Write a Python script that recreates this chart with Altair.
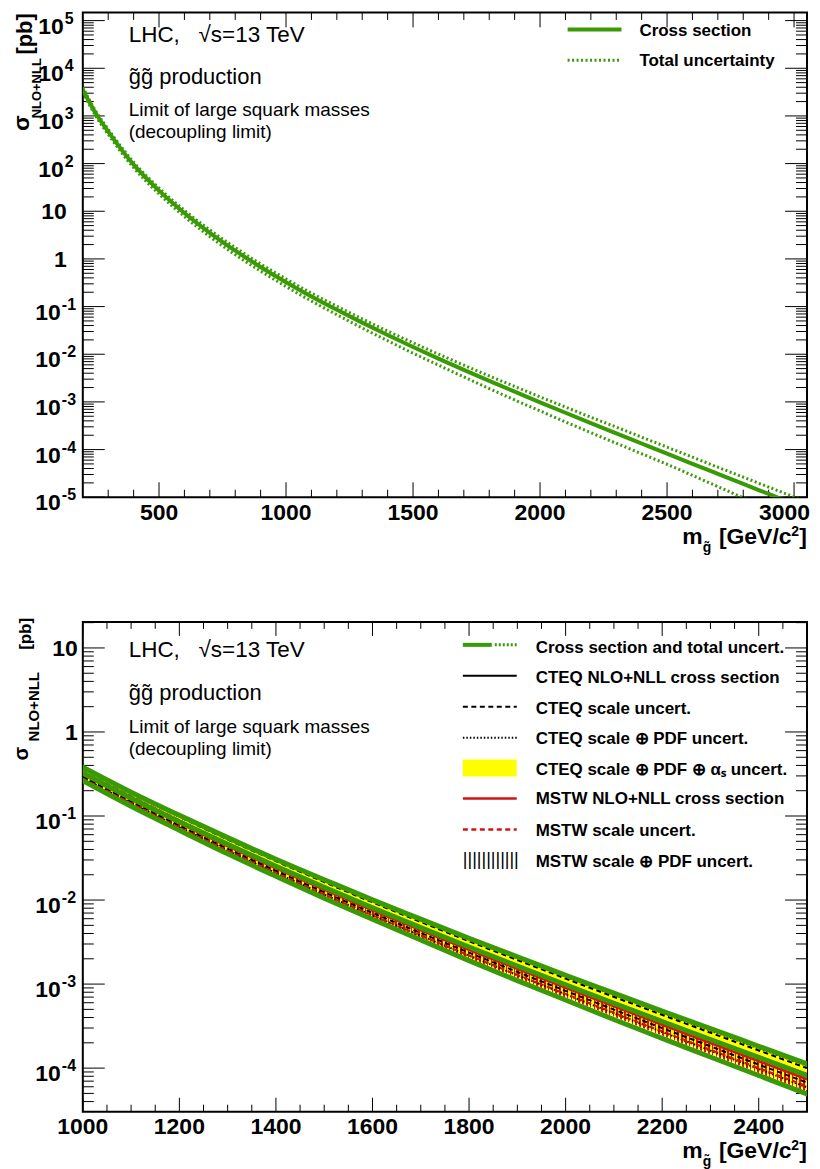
import altair as alt
import pandas as pd

FONT = "Liberation Sans"
GREEN = "#3a9a06"
RED = "#d41414"
YELLOW = "#ffff00"
BLACK = "#000000"

# ---------------- data ----------------
# top panel: gluino-pair cross section (pb) and total-uncertainty envelope
top_mass = [200, 250, 300, 400, 500, 600, 700, 800, 900, 1000, 1100, 1200, 1300, 1400, 1500,
            1600, 1700, 1800, 1900, 2000, 2100, 2200, 2300, 2400, 2500, 2600, 2700, 2800,
            2900, 3000, 3100]
top_xsec = [3550, 1150, 470, 95, 27.1, 9.2, 3.53, 1.49, 0.677, 0.325, 0.163, 0.0856, 0.0461,
            0.0253, 0.0142, 0.0081, 0.0047, 0.00276, 0.00164, 0.000981, 0.000592, 0.000359,
            0.000219, 0.000134, 0.0000820, 0.0000503, 0.0000309, 0.0000190, 0.0000117,
            0.0000072, 0.0000044]
top_up = [3976, 1288, 526, 107.4, 30.6, 10.49, 4.06, 1.728, 0.785, 0.380, 0.1923, 0.1019,
          0.0553, 0.0306, 0.01747, 0.01004, 0.00592, 0.003505, 0.002116, 0.001275, 0.000781,
          0.000477, 0.000296, 0.0001822, 0.0001123, 0.0000694, 0.0000426, 0.0000264,
          0.0000163, 0.0000101, 0.0000062]
top_down = [3124, 1012, 409, 81.7, 23.0, 7.73, 2.93, 1.222, 0.555, 0.263, 0.1304, 0.0676,
            0.0355, 0.0192, 0.01051, 0.00591, 0.00334, 0.001904, 0.001099, 0.000647,
            0.000379, 0.000226, 0.0001358, 0.0000817, 0.0000492, 0.0000287, 0.0000167,
            0.0000097, 0.0000056, 0.0000033, 0.0000020]

# bottom panel: CTEQ / MSTW components (pb)
bot_mass = [1000, 1250, 1500, 1750, 2000, 2250, 2500]
cteq_central = [0.3283, 0.06362, 0.01444, 0.003672, 0.001004, 0.0002876, 0.00008446]
cteq_scale_up = [0.364, 0.0714, 0.01637, 0.004212, 0.001164, 0.0003368, 0.0001000]
cteq_scale_down = [0.2925, 0.0557, 0.0124, 0.003096, 0.000831, 0.0002332, 0.00006724]
cteq_pdf_up = [0.3738, 0.07379, 0.01704, 0.00441, 0.001226, 0.000357, 0.0001066]
cteq_pdf_down = [0.2828, 0.05307, 0.01164, 0.002862, 0.0007554, 0.0002086, 0.00005904]
cteq_tot_up = [0.3803, 0.07505, 0.01747, 0.004554, 0.001275, 0.0003752, 0.0001123]
cteq_tot_down = [0.273, 0.05087, 0.01108, 0.0027, 0.0007063, 0.0001932, 0.00005412]
mstw_central = [0.312, 0.05966, 0.01335, 0.003348, 0.0009025, 0.0002548, 0.0000738]
mstw_scale_up = [0.338, 0.06481, 0.01453, 0.003654, 0.0009879, 0.0002794, 0.00008118]
mstw_scale_down = [0.2795, 0.05275, 0.01164, 0.00288, 0.0007652, 0.0002128, 0.00006068]
mstw_pdf_up = [0.3445, 0.06625, 0.01491, 0.003762, 0.00102, 0.0002898, 0.00008446]
mstw_pdf_down = [0.273, 0.05068, 0.01098, 0.002664, 0.0006936, 0.0001884, 0.00005248]

# tick labels
top_ytick_vals = [1e-5, 1e-4, 1e-3, 1e-2, 1e-1, 1, 10, 1e2, 1e3, 1e4, 1e5]
top_ytick_base = ["10", "10", "10", "10", "10", "1", "10", "10", "10", "10", "10"]
top_ytick_exp = ["-5", "-4", "-3", "-2", "-1", "", "", "2", "3", "4", "5"]
top_xtick_vals = [500, 1000, 1500, 2000, 2500, 3000]
top_xtick_text = ["500", "1000", "1500", "2000", "2500", "3000"]

bot_ytick_vals = [1e-4, 1e-3, 1e-2, 1e-1, 1, 10]
bot_ytick_base = ["10", "10", "10", "10", "1", "10"]
bot_ytick_exp = ["-4", "-3", "-2", "-1", "", ""]
bot_xtick_vals = [1000, 1200, 1400, 1600, 1800, 2000, 2200, 2400]
bot_xtick_text = ["1000", "1200", "1400", "1600", "1800", "2000", "2200", "2400"]

# ---------------- tables ----------------
top_df = pd.DataFrame({"mass": top_mass, "xsec": top_xsec, "up": top_up, "down": top_down})
bot_df = pd.DataFrame({
    "mass": bot_mass, "cteq_central": cteq_central, "cteq_scale_up": cteq_scale_up,
    "cteq_scale_down": cteq_scale_down, "cteq_pdf_up": cteq_pdf_up,
    "cteq_pdf_down": cteq_pdf_down, "cteq_tot_up": cteq_tot_up,
    "cteq_tot_down": cteq_tot_down, "mstw_central": mstw_central,
    "mstw_scale_up": mstw_scale_up, "mstw_scale_down": mstw_scale_down,
    "mstw_pdf_up": mstw_pdf_up, "mstw_pdf_down": mstw_pdf_down})

TW, TH = 726, 486
BW, BH = 726, 491

xs_top = alt.Scale(domain=[200, 3051], nice=False, zero=False)
ys_top = alt.Scale(type="log", domain=[1e-5, 1.484e5], nice=False)
xs_bot = alt.Scale(domain=[1000, 2500], nice=False, zero=False)
ys_bot = alt.Scale(type="log", domain=[3.03e-5, 20.4], nice=False)

one = pd.DataFrame({"a": [0]})


def txt(s, x, y, size, bold=True, align="left", angle=0, color=BLACK, font=FONT):
    return alt.Chart(one).mark_text(
        text=s, align=align, baseline="alphabetic", fontSize=size,
        fontWeight="bold" if bold else "normal", font=font, angle=angle, color=color
    ).encode(x=alt.value(x), y=alt.value(y))


def seg(x1, x2, y, color, width, dash=None):
    kw = dict(color=color, strokeWidth=width)
    if dash:
        kw["strokeDash"] = dash
    return alt.Chart(one).mark_rule(**kw).encode(x=alt.value(x1), x2=alt.value(x2), y=alt.value(y))


def line(df, field, xs, ys, color, width, dash=None):
    kw = dict(color=color, strokeWidth=width, clip=True, interpolate="monotone")
    if dash:
        kw["strokeDash"] = dash
    return alt.Chart(df).mark_line(**kw).encode(
        x=alt.X("mass:Q", scale=xs, axis=None), y=alt.Y(f"{field}:Q", scale=ys, axis=None))


def band(df, f1, f2, xs, ys, color, opacity=1.0):
    return alt.Chart(df).mark_area(color=color, clip=True, interpolate="monotone", opacity=opacity).encode(
        x=alt.X("mass:Q", scale=xs, axis=None), y=alt.Y(f"{f1}:Q", scale=ys, axis=None),
        y2=alt.Y2(f"{f2}:Q"))


def ticks(xs, ys, W, H, xmaj, xmin, ymaj, ymin, xL, xl, yL, yl):
    out = []
    for vals, L in ((ymaj, yL), (ymin, yl)):
        d = pd.DataFrame({"v": vals})
        r = alt.Chart(d).mark_rule(color=BLACK, strokeWidth=1)
        yy = alt.Y("v:Q", scale=ys, axis=None)
        out.append(r.encode(y=yy, x=alt.value(0), x2=alt.value(L)))
        out.append(r.encode(y=yy, x=alt.value(W), x2=alt.value(W - L)))
    for vals, L in ((xmaj, xL), (xmin, xl)):
        d = pd.DataFrame({"v": vals})
        r = alt.Chart(d).mark_rule(color=BLACK, strokeWidth=1)
        xx = alt.X("v:Q", scale=xs, axis=None)
        out.append(r.encode(x=xx, y=alt.value(H), y2=alt.value(H - L)))
        out.append(r.encode(x=xx, y=alt.value(0), y2=alt.value(L)))
    return out


def ylabels(vals, bases, exps, ys, plain_x, pos_x, neg_x):
    df = pd.DataFrame({"v": vals, "b": bases, "e": exps})
    df["k"] = ["plain" if e == "" else ("neg" if e.startswith("-") else "pos") for e in exps]
    out = []
    for kind, bx, dy in (("plain", plain_x, 8), ("pos", pos_x, 13), ("neg", neg_x, 13)):
        sub = df[df.k == kind]
        if len(sub) == 0:
            continue
        out.append(alt.Chart(sub).mark_text(
            align="right", baseline="alphabetic", dy=dy, fontSize=23, fontWeight="bold",
            font=FONT, color=BLACK).encode(
            x=alt.value(bx), y=alt.Y("v:Q", scale=ys, axis=None), text="b:N"))
        if kind != "plain":
            out.append(alt.Chart(sub).mark_text(
                align="left", baseline="alphabetic", dy=3, fontSize=16, fontWeight="bold",
                font=FONT, color=BLACK).encode(
                x=alt.value(bx + 1), y=alt.Y("v:Q", scale=ys, axis=None), text="e:N"))
    return out


def xlabels(vals, texts, xs, y, last_right=None):
    df = pd.DataFrame({"v": vals, "t": texts})
    out = []
    main = df if last_right is None else df[df.v != last_right]
    out.append(alt.Chart(main).mark_text(
        align="center", baseline="alphabetic", fontSize=23, fontWeight="bold", font=FONT,
        color=BLACK).encode(x=alt.X("v:Q", scale=xs, axis=None), y=alt.value(y), text="t:N"))
    if last_right is not None:
        out.append(alt.Chart(df[df.v == last_right]).mark_text(
            align="right", baseline="alphabetic", dx=16, fontSize=23, fontWeight="bold",
            font=FONT, color=BLACK).encode(x=alt.X("v:Q", scale=xs, axis=None), y=alt.value(y),
                                           text="t:N"))
    return out


def xtitle(yb):
    return [txt("m", 601, yb, 23), txt("g\u0303", 621.5, yb + 8, 14),
            txt("[GeV/c", 710.5, yb, 23, align="right"), txt("2", 718, yb - 8, 14, align="right"),
            txt("]", 726, yb, 23, align="right")]


# ---------------- top panel ----------------
anchor = alt.Chart(one).mark_rule(strokeOpacity=0, strokeWidth=0.5, color="white").encode(
    x=alt.value(-74), x2=alt.value(-74), y=alt.value(-1), y2=alt.value(0))

top_ymin = [m * 10.0 ** k for k in range(-5, 5) for m in range(2, 10)]
top_xmin = [v for v in range(300, 3001, 100) if v % 500]

top_layers = [anchor]
top_layers += ticks(xs_top, ys_top, TW, TH, top_xtick_vals, top_xmin, top_ytick_vals, top_ymin,
                    15, 7.5, 22, 11)
top_layers += [
    line(top_df, "up", xs_top, ys_top, GREEN, 3, [2, 2.5]),
    line(top_df, "down", xs_top, ys_top, GREEN, 3, [2, 2.5]),
    line(top_df, "xsec", xs_top, ys_top, GREEN, 4),
]
top_layers += ylabels(top_ytick_vals, top_ytick_base, top_ytick_exp, ys_top, -16, -19, -22)
top_layers += xlabels(top_xtick_vals, top_xtick_text, xs_top, TH + 22.7, last_right=3000)
top_layers += xtitle(533)
top_layers += [
    txt("[pb]", -51, 21.5, 22, angle=270, align="center"),
    txt("NLO+NLL", -42, 76, 13, angle=270, align="center"),
    txt("\u03c3", -54, 111, 23, angle=270, align="center"),
    txt("LHC,\u00a0\u00a0\u00a0\u221as=13 TeV", 46, 30, 22.5, bold=False),
    txt("g\u0303g\u0303 production", 46, 71.4, 22, bold=False),
    txt("Limit of large squark masses", 46, 104, 19, bold=False),
    txt("(decoupling limit)", 46, 126, 19, bold=False),
    seg(486, 540, 17, GREEN, 4),
    seg(486, 540, 48, GREEN, 3, [2, 2.5]),
    txt("Cross section", 558, 24, 17),
    txt("Total uncertainty", 558, 54, 17),
]
top = alt.layer(*top_layers).properties(width=TW, height=TH)

# ---------------- bottom panel ----------------
bot_ymin = [m * 10.0 ** k for k in range(-5, 2) for m in range(2, 10) if 3.03e-5 < m * 10.0 ** k < 20.4]
bot_xmin = [v for v in range(1050, 2500, 50) if v % 200]

CLR = "rgba(0,0,0,0)"
N = 190
stops = []
for i in range(N):
    a, b, c = i / N, (i + 0.42) / N, (i + 1) / N
    stops += [alt.GradientStop(offset=a, color=RED), alt.GradientStop(offset=b, color=RED),
              alt.GradientStop(offset=b, color=CLR), alt.GradientStop(offset=c, color=CLR)]
hatch = alt.LinearGradient(gradient="linear", stops=stops, x1=0, x2=1, y1=0, y2=0)

bot_layers = ticks(xs_bot, ys_bot, BW, BH, bot_xtick_vals, bot_xmin, bot_ytick_vals, bot_ymin,
                   14, 7, 22, 11)
bot_layers += [
    band(bot_df, "cteq_tot_up", "cteq_tot_down", xs_bot, ys_bot, YELLOW),
    band(bot_df, "mstw_pdf_up", "mstw_pdf_down", xs_bot, ys_bot, hatch),
    line(bot_df, "cteq_pdf_up", xs_bot, ys_bot, BLACK, 2, [1.5, 2]),
    line(bot_df, "cteq_pdf_down", xs_bot, ys_bot, BLACK, 2, [1.5, 2]),
    line(bot_df, "cteq_scale_up", xs_bot, ys_bot, BLACK, 2, [5, 3.5]),
    line(bot_df, "cteq_scale_down", xs_bot, ys_bot, BLACK, 2, [5, 3.5]),
    line(bot_df, "cteq_central", xs_bot, ys_bot, BLACK, 2),
    line(bot_df, "mstw_scale_up", xs_bot, ys_bot, RED, 2, [5, 3.5]),
    line(bot_df, "mstw_scale_down", xs_bot, ys_bot, RED, 2, [5, 3.5]),
    line(bot_df, "mstw_central", xs_bot, ys_bot, RED, 2.5),
    line(top_df, "up", xs_bot, ys_bot, GREEN, 5),
    line(top_df, "down", xs_bot, ys_bot, GREEN, 5),
    line(top_df, "xsec", xs_bot, ys_bot, GREEN, 5),
]
bot_layers += ylabels(bot_ytick_vals, bot_ytick_base, bot_ytick_exp, ys_bot, -5, -19, -22)
bot_layers += xlabels(bot_xtick_vals, bot_xtick_text, xs_bot, BH + 22)
bot_layers += xtitle(537)
bot_layers += [
    txt("[pb]", -52, 12, 17, angle=270, align="center"),
    txt("NLO+NLL", -44, 85, 15, angle=270, align="center"),
    txt("\u03c3", -55, 132, 20, angle=270, align="center"),
    txt("LHC,\u00a0\u00a0\u00a0\u221as=13 TeV", 46, 35, 22.5, bold=False),
    txt("g\u0303g\u0303 production", 46, 78.4, 22, bold=False),
    txt("Limit of large squark masses", 46, 111, 19, bold=False),
    txt("(decoupling limit)", 46, 133, 19, bold=False),
    # legend
    seg(381, 410, 23, GREEN, 4),
    seg(413, 435, 23, GREEN, 3, [2, 2]),
    txt("Cross section and total uncert.", 454, 31, 17),
    seg(381, 435, 54, BLACK, 2),
    txt("CTEQ NLO+NLL cross section", 454, 61, 17),
    seg(381, 435, 85, BLACK, 2, [5, 3.5]),
    txt("CTEQ scale uncert.", 454, 92, 17),
    seg(381, 435, 116, BLACK, 2, [1.5, 2]),
    txt("CTEQ scale \u2295 PDF uncert.", 454, 122, 17),
    alt.Chart(one).mark_rect(color=YELLOW).encode(
        x=alt.value(381), x2=alt.value(435), y=alt.value(138), y2=alt.value(155)),
    txt("CTEQ scale \u2295 PDF \u2295 \u03b1\u209b uncert.", 454, 153, 17),
    seg(381, 435, 177, RED, 2.5),
    txt("MSTW NLO+NLL cross section", 454, 183, 17),
    seg(381, 435, 208, RED, 2.5, [5, 3.5]),
    txt("MSTW scale uncert.", 454, 215, 17),
    txt("||||||||||||", 381, 243.5, 18, bold=False),
    txt("MSTW scale \u2295 PDF uncert.", 454, 246, 17),
]
bottom = alt.layer(*bot_layers).properties(width=BW, height=BH)

chart = alt.vconcat(top, bottom, spacing=125, bounds="flush").properties(padding=0).configure_view(
    stroke="black", strokeWidth=2)

chart.save("out.html", embed_options={"renderer": "svg", "actions": False})
